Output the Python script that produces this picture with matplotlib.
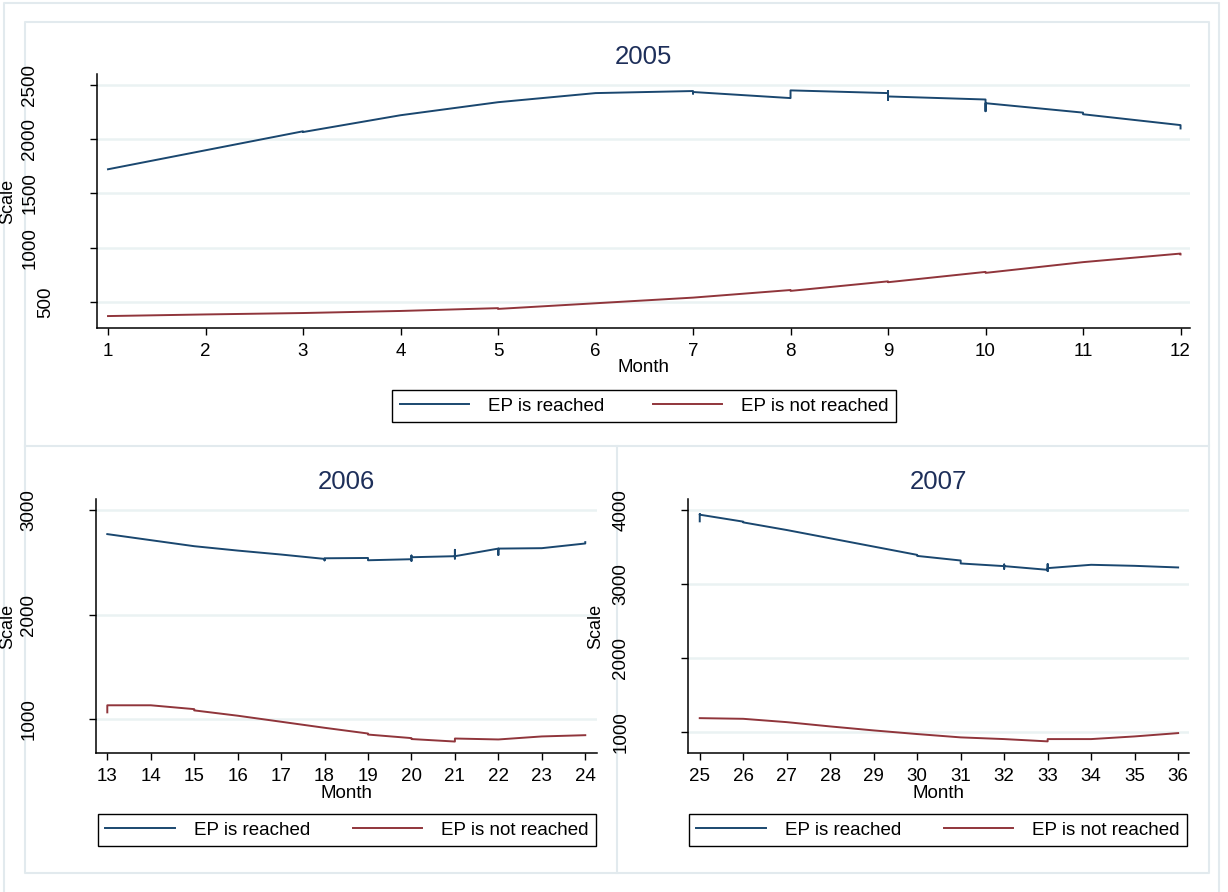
import matplotlib
matplotlib.use('Agg')
import matplotlib.pyplot as plt
from matplotlib.lines import Line2D
from matplotlib.transforms import blended_transform_factory

plt.rcParams['font.family'] = ['Liberation Sans', 'DejaVu Sans']

# ---- data (repeated months = several obs in one month) ----
months_05_reached = [1, 2, 3, 3, 4, 5, 6, 7, 7, 7, 8, 8, 9, 9, 9, 9, 10, 10, 10, 11, 11, 12, 12]
scale_05_reached = [1723, 1898, 2073, 2066, 2221, 2341, 2425, 2444, 2420, 2435, 2379, 2450,
                    2425, 2444, 2363, 2394, 2366, 2258, 2332, 2245, 2230, 2130, 2099]
months_05_not = [1, 2, 3, 4, 5, 5, 6, 7, 8, 8, 9, 9, 10, 10, 11, 12, 12]
scale_05_not = [370, 385, 398, 417, 443, 436, 488, 540, 610, 602, 690, 682, 777, 768, 867, 946, 938]

months_06_reached = [13, 14, 15, 16, 17, 18, 18, 18, 19, 19, 20, 20, 20, 20,
                     21, 21, 21, 21, 22, 22, 22, 23, 24, 24]
scale_06_reached = [2772, 2714, 2656, 2614, 2576, 2534, 2520, 2540, 2543, 2521, 2531, 2515, 2566, 2550,
                    2560, 2537, 2621, 2560, 2633, 2572, 2633, 2637, 2682, 2695]
months_06_not = [13, 13, 14, 15, 15, 16, 17, 18, 19, 19, 20, 20, 21, 21, 22, 23, 24]
scale_06_not = [1061, 1129, 1129, 1092, 1080, 1029, 971, 913, 858, 848, 814, 805, 781, 810, 801, 830, 842]

months_07_reached = [25, 25, 25, 26, 26, 27, 28, 29, 30, 30, 31, 31, 32, 32, 32, 32,
                     33, 33, 33, 33, 34, 35, 36]
scale_07_reached = [3852, 3950, 3942, 3848, 3838, 3735, 3623, 3511, 3399, 3385, 3323, 3283,
                    3247, 3269, 3211, 3247, 3197, 3274, 3180, 3220, 3265, 3251, 3229]
months_07_not = [25, 26, 27, 28, 29, 30, 31, 32, 33, 33, 34, 35, 36]
scale_07_not = [1193, 1184, 1139, 1081, 1027, 978, 933, 910, 879, 910, 910, 946, 991]

label_reached = 'EP is reached'
label_not = 'EP is not reached'

NAVY = '#1a476f'
MAROON = '#90353b'
GRID = '#eaf2f3'
FRAME = '#e2eaee'
TITLE = '#1e2f5a'

W, H = 1228, 892
fig = plt.figure(figsize=(W / 100, H / 100), dpi=100)
fig.patch.set_facecolor('white')


def frac(x0, y0, x1, y1):
    return [x0 / W, 1 - y1 / H, (x1 - x0) / W, (y1 - y0) / H]


# light frames of the combined graph (drawn under everything else)
def frame_line(xs, ys):
    fig.add_artist(Line2D([x / W for x in xs], [1 - y / H for y in ys],
                          transform=fig.transFigure, color=FRAME, lw=1.5, zorder=-1))


frame_line([4, 4, 1219, 1219], [893, 3, 3, 893])
frame_line([25, 25, 1209, 1209, 25], [446, 22, 22, 446, 446])
frame_line([25, 25, 1209, 1209], [446, 873, 873, 446])
frame_line([617, 617], [446, 873])


def panel(rect, title, m_r, v_r, m_n, v_n, xlim, ylim, xticks, yticks, leg_xy, colsp, ylab_x):
    ax = fig.add_axes(rect)
    ax.patch.set_alpha(0)
    ax.plot(m_r, v_r, color=NAVY, lw=1.4, label=label_reached)
    ax.plot(m_n, v_n, color=MAROON, lw=1.4, label=label_not)
    ax.set_xlim(*xlim)
    ax.set_ylim(*ylim)
    ax.set_xticks(xticks)
    ax.set_yticks(yticks)
    ax.set_yticklabels([])
    ax.grid(axis='y', color=GRID, lw=1.8)
    ax.set_axisbelow(True)
    for s in ['top', 'right']:
        ax.spines[s].set_visible(False)
    for s in ['left', 'bottom']:
        ax.spines[s].set_linewidth(1.1)
    ax.tick_params(axis='x', length=5, width=1, labelsize=13.5, pad=6)
    ax.tick_params(axis='y', length=5, width=1)
    w_px = rect[2] * W
    h_px = rect[3] * H
    # Stata-style rotated y labels: shorter labels sit closer to the axis
    tr = blended_transform_factory(ax.transAxes, ax.transData)
    for v in yticks:
        s = str(v)
        d = 3 + 16 * len(s)
        ax.text(-d / w_px, v, s, transform=tr, rotation=90, ha='center', va='center',
                fontsize=13.5, clip_on=False)
    ax.set_ylabel('Scale', fontsize=13, va='center')
    ax.yaxis.set_label_coords(-(rect[0] * W - ylab_x) / w_px, 0.5)
    ax.set_xlabel('Month', fontsize=13.5, va='center')
    ax.xaxis.set_label_coords(0.5, -40 / h_px)
    ax.set_title(title, fontsize=18.5, color=TITLE, y=1 + 17 / h_px, va='center', pad=0)
    leg = ax.legend(loc='center', bbox_to_anchor=(leg_xy[0] / W, 1 - leg_xy[1] / H),
                    bbox_transform=fig.transFigure, ncol=2, fontsize=13.5,
                    frameon=True, fancybox=False, edgecolor='black', framealpha=1,
                    handlelength=3.7, handletextpad=1.0, columnspacing=colsp, borderpad=0.4)
    leg.get_frame().set_linewidth(1.0)
    return ax


panel(frac(97, 74, 1190, 328), '2005', months_05_reached, scale_05_reached,
      months_05_not, scale_05_not, (0.887, 12.097), (260, 2601),
      list(range(1, 13)), [500, 1000, 1500, 2000, 2500], (644, 406), 2.6, 8)

panel(frac(96, 499, 597, 753), '2006', months_06_reached, scale_06_reached,
      months_06_not, scale_06_not, (12.74, 24.27), (671, 3109),
      list(range(13, 25)), [1000, 2000, 3000], (347, 830), 2.3, 8)

panel(frac(688, 499, 1189, 753), '2007', months_07_reached, scale_07_reached,
      months_07_not, scale_07_not, (24.73, 36.25), (722, 4154),
      list(range(25, 37)), [1000, 2000, 3000, 4000], (938, 830), 2.3, 596)

fig.savefig('out.png', dpi=100, facecolor='white')
